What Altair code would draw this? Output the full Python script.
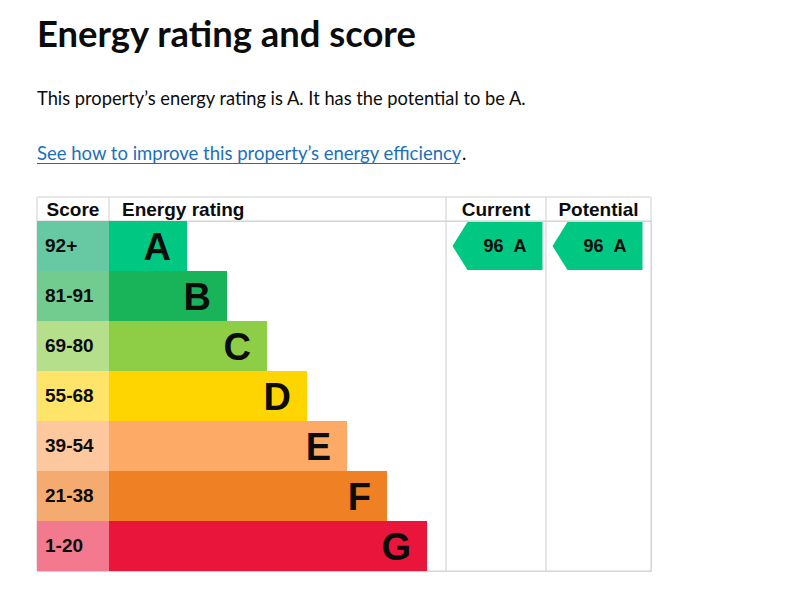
import altair as alt
import pandas as pd

# ---- data ----
letters = ["A", "B", "C", "D", "E", "F", "G"]
score_ranges = ["92+", "81-91", "69-80", "55-68", "39-54", "21-38", "1-20"]
bar_colors = ["#00c781", "#19b459", "#8dce46", "#ffd500", "#fcaa65", "#ef8023", "#e9153b"]
score_colors = ["#66c9a4", "#73cc8f", "#b6df8c", "#ffe469", "#fdc89d", "#f5ab70", "#f37a8e"]
current_score, current_rating = 96, "A"
potential_score, potential_rating = 96, "A"
headers = ["Score", "Energy rating", "Current", "Potential"]

title_text = "Energy rating and score"
summary_text = "This property\u2019s energy rating is A. It has the potential to be A."
link_text = "See how to improve this property\u2019s energy efficiency"

# ---- layout (pixels) ----
W, H = 614, 350          # table body area (rows)
HEADER_H = 24
SCORE_W = 72
BAR_BASE = 78
BAR_STEP = 40
COL_CUR, COL_POT = 409, 509
FONT_TXT = "Lato"
FONT_TBL = "Liberation Sans"
INK = "#0b0c0c"

rows = pd.DataFrame({
    "letter": letters,
    "range": score_ranges,
    "bar": bar_colors,
    "scol": score_colors,
    "x0": [0] * 7,
    "x1": [SCORE_W] * 7,
    "xend": [SCORE_W + BAR_BASE + BAR_STEP * i for i in range(7)],
})
rows["xlab"] = rows["xend"] - 16
rows["xscore"] = 8

xs = alt.Scale(domain=[0, W], range=[0, W], nice=False, zero=False)
ys = alt.Scale(domain=letters, paddingInner=0, paddingOuter=0)
X = lambda f: alt.X(f, type="quantitative", scale=xs, axis=None)
Y = alt.Y("letter:N", scale=ys, axis=None)

base = alt.Chart(rows)

# grid lines
vlines = pd.DataFrame({"x": [0, SCORE_W, COL_CUR, COL_POT, W]})
grid_v = alt.Chart(vlines).mark_rule(color="#cfcfcf", strokeWidth=1).encode(
    x=X("x"), y=alt.value(-HEADER_H), y2=alt.value(H))
hlines = pd.DataFrame({"x": [0], "x2": [W]})
grid_h = alt.layer(*[
    alt.Chart(hlines).mark_rule(color="#cfcfcf", strokeWidth=1).encode(
        x=X("x"), x2=alt.X2("x2"), y=alt.value(yv))
    for yv in [-HEADER_H, 0, H]
])

score_rect = base.mark_rect().encode(
    x=X("x0"), x2=alt.X2("x1"), y=Y, color=alt.Color("scol:N", scale=None))
bar_rect = base.mark_rect().encode(
    x=X("x1"), x2=alt.X2("xend"), y=Y, color=alt.Color("bar:N", scale=None))
score_txt = base.mark_text(align="left", baseline="alphabetic", dy=6, font=FONT_TBL,
                           fontWeight="bold", fontSize=19, color=INK).encode(
    x=X("xscore"), y=Y, text="range:N")
letter_txt = base.mark_text(align="right", baseline="alphabetic", dy=13.5, font=FONT_TBL,
                            fontWeight="bold", fontSize=38, color=INK).encode(
    x=X("xlab"), y=Y, text="letter:N")

hdr = pd.DataFrame({
    "h": headers,
    "x": [SCORE_W / 2, SCORE_W + 13, (COL_CUR + COL_POT) / 2, (COL_POT + W) / 2],
    "al": ["center", "left", "center", "center"],
})
hdr_c = alt.Chart(hdr[hdr.al == "center"]).mark_text(
    align="center", baseline="alphabetic", font=FONT_TBL, fontWeight="bold",
    fontSize=19, color=INK).encode(x=X("x"), y=alt.value(-5.5), text="h:N")
hdr_l = alt.Chart(hdr[hdr.al == "left"]).mark_text(
    align="left", baseline="alphabetic", font=FONT_TBL, fontWeight="bold",
    fontSize=19, color=INK).encode(x=X("x"), y=alt.value(-5.5), text="h:N")

# arrows
arrows = pd.DataFrame({
    "letter": [current_rating, potential_rating],
    "label": [f"{current_score}\u00a0\u00a0{current_rating}",
              f"{potential_score}\u00a0\u00a0{potential_rating}"],
    "xc": [COL_CUR + 51.5, COL_POT + 51.5],
    "xt": [COL_CUR + 59, COL_POT + 59],
    "fill": [bar_colors[letters.index(current_rating)], bar_colors[letters.index(potential_rating)]],
})
arrow_path = "M-1,0 L-0.667,-0.533 L1,-0.533 L1,0.533 L-0.667,0.533 Z"
arrow_mark = alt.Chart(arrows).mark_point(
    shape=arrow_path, filled=True, opacity=1, size=8100, strokeWidth=0).encode(
    x=X("xc"), y=Y, color=alt.Color("fill:N", scale=None))
arrow_txt = alt.Chart(arrows).mark_text(
    align="center", baseline="alphabetic", dy=6, font=FONT_TBL, fontWeight="bold",
    fontSize=18, color=INK).encode(x=X("xt"), y=Y, text="label:N")

# page texts
txt = pd.DataFrame({"t": [title_text]})
title = alt.Chart(txt).mark_text(align="left", baseline="alphabetic", font=FONT_TXT,
                                 fontWeight="bold", fontSize=36.4, color=INK).encode(
    x=alt.value(0), y=alt.value(-174), text="t:N")
summ = alt.Chart(pd.DataFrame({"t": [summary_text]})).mark_text(
    align="left", baseline="alphabetic", font=FONT_TXT, fontSize=18.3, color=INK).encode(
    x=alt.value(0), y=alt.value(-116), text="t:N")
link = alt.Chart(pd.DataFrame({"t": [link_text]})).mark_text(
    align="left", baseline="alphabetic", font=FONT_TXT, fontSize=18.5, color="#1d70b8").encode(
    x=alt.value(0), y=alt.value(-61), text="t:N")
dot = alt.Chart(pd.DataFrame({"t": ["."]})).mark_text(
    align="left", baseline="alphabetic", font=FONT_TXT, fontSize=18.5, color=INK).encode(
    x=alt.value(425), y=alt.value(-61), text="t:N")
underline = alt.Chart(pd.DataFrame({"t": [link_text]})).mark_rule(
    color="#1d70b8", strokeWidth=1).encode(
    x=alt.value(0), x2=alt.value(423), y=alt.value(-57.5))

chart = alt.layer(
    grid_v, grid_h, score_rect, bar_rect, score_txt, letter_txt, hdr_c, hdr_l,
    arrow_mark, arrow_txt, title, summ, link, dot, underline,
).properties(
    width=W, height=H,
    padding={"left": 37, "top": 221, "right": 161, "bottom": 25},
    autosize=alt.AutoSizeParams(type="none"),
).configure_view(stroke=None).configure(background="white")

chart.save("out.html", embed_options={"renderer": "svg", "actions": False})
